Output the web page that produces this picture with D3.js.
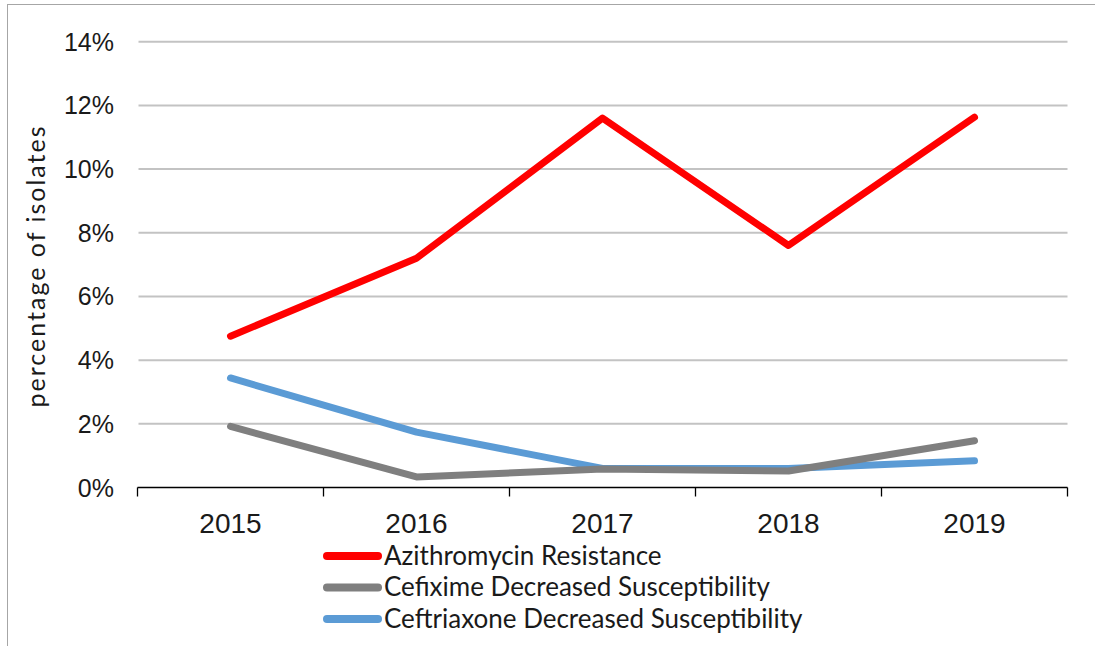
<html>
<head>
<script type="text/javascript" src="https://d3js.org/d3.v7.min.js"></script>
<style>
  body { margin: 0; background: #fff; }
</style>
</head>
<body>
<div id="my_chart"></div>
<script type="text/javascript">
var years = ["2015", "2016", "2017", "2018", "2019"];
var seriesNames = ["Azithromycin Resistance", "Cefixime Decreased Susceptibility", "Ceftriaxone Decreased Susceptibility"];
var azithro = [4.75, 7.2, 11.6, 7.6, 11.63];
var cefixime = [1.92, 0.33, 0.58, 0.52, 1.47];
var ceftriaxone = [3.44, 1.74, 0.6, 0.6, 0.84];
var yTicks = [0, 2, 4, 6, 8, 10, 12, 14];
var colors = ["#ff0000", "#7f7f7f", "#5b9bd5"];

var width = 1095, height = 646;
var margin = {top: 41.7, left: 137.5, right: 1095 - 1067.5, bottom: 646 - 487.5};

var svg = d3.select("#my_chart").append("svg")
    .attr("width", width)
    .attr("height", height);

// outer frame
svg.append("rect")
    .attr("x", 7.5).attr("y", 4.5)
    .attr("width", 1200).attr("height", 800)
    .attr("fill", "none").attr("stroke", "#a6a6a6").attr("stroke-width", 1);

var x = d3.scaleBand()
    .domain(years)
    .range([margin.left, width - margin.right]);
var y = d3.scaleLinear()
    .domain([0, 14])
    .range([height - margin.bottom, margin.top]);

// gridlines
svg.append("g").selectAll("line")
    .data(yTicks.filter(function(d) { return d > 0; }))
    .enter().append("line")
    .attr("x1", margin.left + 1).attr("x2", width - margin.right)
    .attr("y1", function(d) { return y(d); })
    .attr("y2", function(d) { return y(d); })
    .attr("stroke", "#c3c3c3").attr("stroke-width", 2);

// y labels
svg.append("g").selectAll("text")
    .data(yTicks)
    .enter().append("text")
    .attr("x", 114)
    .attr("y", function(d) { return y(d) + 9; })
    .attr("text-anchor", "end")
    .attr("font-family", "Liberation Sans, Arial, sans-serif")
    .attr("font-size", 25)
    .attr("fill", "#1a1a1a")
    .text(function(d) { return d + "%"; });

// x axis
var xAxis = svg.append("g")
    .attr("transform", "translate(0," + y(0) + ")");
xAxis.append("line")
    .attr("x1", margin.left).attr("x2", width - margin.right)
    .attr("stroke", "#000").attr("stroke-width", 1.3);
xAxis.selectAll("line.tick")
    .data(years.map(function(d) { return x(d); }).concat([x(years[years.length - 1]) + x.bandwidth()]))
    .enter().append("line")
    .attr("class", "tick")
    .attr("x1", function(d) { return d; }).attr("x2", function(d) { return d; })
    .attr("y1", 0).attr("y2", 9)
    .attr("stroke", "#000").attr("stroke-width", 1.3);
xAxis.selectAll("text")
    .data(years)
    .enter().append("text")
    .attr("x", function(d) { return x(d) + x.bandwidth() / 2; })
    .attr("y", 45)
    .attr("text-anchor", "middle")
    .attr("font-family", "Liberation Sans, Arial, sans-serif")
    .attr("font-size", 28)
    .attr("fill", "#1a1a1a")
    .text(function(d) { return d; });

// y title
svg.append("text")
    .attr("transform", "translate(45,266) rotate(-90)")
    .attr("text-anchor", "middle")
    .attr("font-family", "Lato, sans-serif")
    .attr("font-size", 25)
    .attr("letter-spacing", 2)
    .attr("fill", "#1a1a1a")
    .text("percentage of isolates");

// lines
var allSeries = [azithro, cefixime, ceftriaxone];
var line = d3.line()
    .x(function(d, i) { return x(years[i]) + x.bandwidth() / 2; })
    .y(function(d) { return y(d); });

[2, 1, 0].forEach(function(k) {
    svg.append("path")
        .datum(allSeries[k])
        .attr("d", line)
        .attr("fill", "none")
        .attr("stroke", colors[k])
        .attr("stroke-width", 7)
        .attr("stroke-linejoin", "round")
        .attr("stroke-linecap", "round");
});

// legend
var legend = svg.append("g").selectAll("g")
    .data(seriesNames)
    .enter().append("g")
    .attr("transform", function(d, i) { return "translate(0," + (556 + i * 31.5) + ")"; });
legend.append("line")
    .attr("x1", 327).attr("x2", 378)
    .attr("stroke", function(d, i) { return colors[i]; })
    .attr("stroke-width", 8)
    .attr("stroke-linecap", "round");
legend.append("text")
    .attr("x", 384)
    .attr("y", 8.5)
    .attr("font-family", "Lato, Open Sans, sans-serif")
    .attr("font-size", 26)
    .attr("fill", "#1a1a1a")
    .text(function(d) { return d; });
</script>
</body>
</html>
